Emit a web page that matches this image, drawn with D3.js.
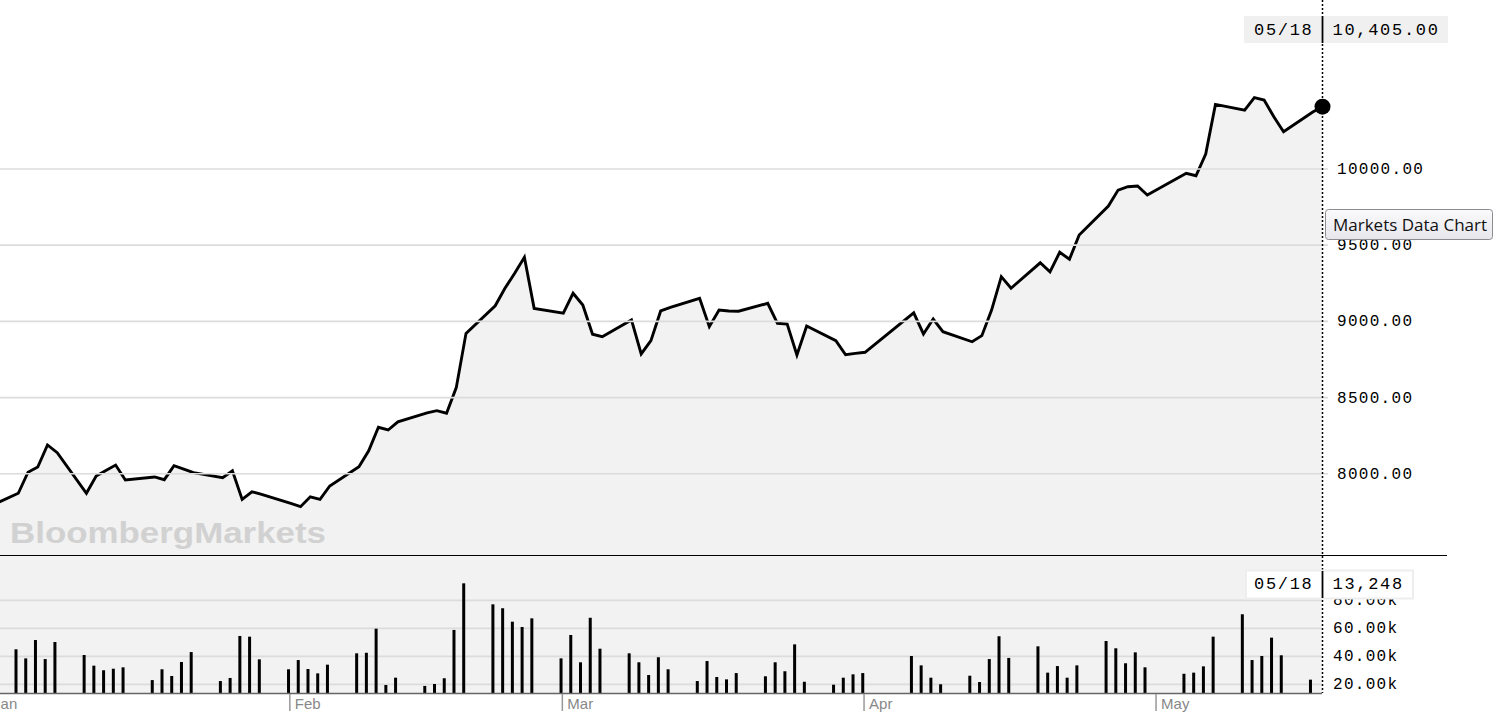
<!DOCTYPE html>
<html><head><meta charset="utf-8">
<script src="https://cdn.jsdelivr.net/npm/d3@7"></script>
<style>body{margin:0;background:#fff;overflow:hidden} svg{display:block}</style>
</head><body><svg id="c" width="1502" height="714"></svg>
<script>
// ---------- data ----------
const dates = [
 "2020-12-31",
 "2021-01-04","2021-01-05","2021-01-06","2021-01-07","2021-01-08",
 "2021-01-11","2021-01-12","2021-01-13","2021-01-14","2021-01-15",
 "2021-01-18","2021-01-19","2021-01-20","2021-01-21","2021-01-22",
 "2021-01-25","2021-01-26","2021-01-27","2021-01-28","2021-01-29",
 "2021-02-01","2021-02-02","2021-02-03","2021-02-04","2021-02-05",
 "2021-02-08","2021-02-09","2021-02-10","2021-02-11","2021-02-12",
 "2021-02-15","2021-02-16","2021-02-17","2021-02-18","2021-02-19",
 "2021-02-22","2021-02-23","2021-02-24","2021-02-25","2021-02-26",
 "2021-03-01","2021-03-02","2021-03-03","2021-03-04","2021-03-05",
 "2021-03-08","2021-03-09","2021-03-10","2021-03-11","2021-03-12",
 "2021-03-15","2021-03-16","2021-03-17","2021-03-18","2021-03-19",
 "2021-03-22","2021-03-23","2021-03-24","2021-03-25","2021-03-26",
 "2021-03-29","2021-03-30","2021-03-31","2021-04-01",
 "2021-04-06","2021-04-07","2021-04-08","2021-04-09",
 "2021-04-12","2021-04-13","2021-04-14","2021-04-15","2021-04-16",
 "2021-04-19","2021-04-20","2021-04-21","2021-04-22","2021-04-23",
 "2021-04-26","2021-04-27","2021-04-28","2021-04-29","2021-04-30",
 "2021-05-04","2021-05-05","2021-05-06","2021-05-07",
 "2021-05-10","2021-05-11","2021-05-12","2021-05-13","2021-05-14",
 "2021-05-17","2021-05-18"
];
const closes = [
 7751,
 7869,8007,8041,8186,8135, 7869,7982,8018,8054,7956, 7976,7958,8050,8028,8004, 7971,8017,7829,7879,7862,
 7802,7781,7846,7829,7917, 8043,8148,8302,8284,8338, 8397,8411,8394,8562,8918, 9099,9214,9312,9417,9082,
 9050,9181,9104,8912,8896, 9006,8783,8870,9065,9089, 9148,8962,9071,9065,9063, 9115,8984,8979,8776,8966,
 8870,8778,8787,8794, 9053,8914,9012,8929, 8863,8903,9071,9290,9214, 9381,9322,9450,9404,9563,
 9753,9858,9880,9885,9826, 9968,9952,10094,10420, 10383,10464,10449,10339,10241, 10370,10405
];
const volumes = [
 null,
 44700,38200,51300,37700,49900, 40600,33000,29700,30800,31800, 22700,30400,25600,35600,42700, 22000,24200,54200,53700,37500,
 30400,37000,30600,27500,33700, 41800,42200,59400,19200,24400, 18500,19900,24000,58500,91800, 76800,74000,64400,60600,66800,
 38200,54900,35400,67200,45100, 41800,35400,26300,39000,30400, 22000,36300,24900,23200,27700, 25400,35400,29000,48200,21500,
 19400,24400,26800,27700, 39900,33200,24400,19700, 25800,21300,37700,54000,38500, 46800,28000,32700,24400,33200,
 50600,45400,34700,42500,31800, 27200,28000,32500,53700, 69700,37000,39900,53000,40400, 23000,13248
];
const priceTicks = [8000, 8500, 9000, 9500, 10000];
const volumeTicks = [20000, 40000, 60000, 80000];
const watermark = "BloombergMarkets";
const buttonLabel = "Markets Data Chart";

// ---------- setup ----------
const parse = d3.timeParse("%Y-%m-%d");
const rows = dates.map((d,i)=>({date:parse(d), close:closes[i], vol:volumes[i]}));
const last = rows[rows.length-1];

const svg = d3.select("#c");
const plotRight = 1322;
const x = d3.scaleTime().domain([new Date(2021,0,1), new Date(2021,4,18)]).range([-12.4, 1321]);
const lineShift = 1.5, barShift = -0.8;
const y = d3.scaleLinear().domain([7464, 11105]).range([555, 0]);
const yv = d3.scaleLinear().domain([13248, 80000]).range([693.3, 599.85]);

const defs = svg.append("defs");
defs.append("clipPath").attr("id","clipP").append("rect").attr("x",0).attr("y",0).attr("width",plotRight).attr("height",555);
defs.append("clipPath").attr("id","clipV").append("rect").attr("x",0).attr("y",556).attr("width",plotRight).attr("height",140);
const grad = defs.append("linearGradient").attr("id","btn").attr("x1",0).attr("y1",0).attr("x2",0).attr("y2",1);
grad.append("stop").attr("offset","0%").attr("stop-color","#fbfbfd");
grad.append("stop").attr("offset","100%").attr("stop-color","#e6e6ec");

// ---------- price panel ----------
const gP = svg.append("g").attr("clip-path","url(#clipP)");
const area = d3.area().x(d=>x(d.date)+lineShift).y0(555).y1(d=>y(d.close));
gP.append("path").datum(rows).attr("d",area).attr("fill","#f2f2f2");

gP.append("text").attr("x",10).attr("y",543).text(watermark)
  .attr("font-family","Liberation Sans, Arial, sans-serif").attr("font-weight","bold")
  .attr("font-size",30).attr("fill","#d1d1d1").attr("textLength",316).attr("lengthAdjust","spacingAndGlyphs");

// gridlines
svg.append("g")
  .call(d3.axisRight(y).tickValues(priceTicks).tickSize(1328).tickFormat(""))
  .call(g=>g.select(".domain").remove())
  .call(g=>g.selectAll("line").attr("stroke","#dcdcdc").attr("stroke-width",1.6));

const line = d3.line().x(d=>x(d.date)+lineShift).y(d=>y(d.close));
gP.append("path").datum(rows).attr("d",line).attr("fill","none").attr("stroke","#000")
  .attr("stroke-width",2.9).attr("stroke-linejoin","miter");

// price labels
svg.append("g").attr("transform","translate(1332,0)")
  .call(d3.axisRight(y).tickValues(priceTicks).tickSize(0).tickPadding(5).tickFormat(d3.format(".2f")))
  .call(g=>g.select(".domain").remove())
  .call(g=>g.selectAll("text").attr("font-family","Liberation Mono, DejaVu Sans Mono, monospace")
     .attr("font-size",16).attr("letter-spacing",1.3).attr("fill","#000"));

// separator
svg.append("line").attr("x1",0).attr("x2",1447).attr("y1",555.5).attr("y2",555.5).attr("stroke","#000").attr("stroke-width",1.2);

// ---------- volume panel ----------
svg.append("rect").attr("x",0).attr("y",556).attr("width",plotRight).attr("height",137.3).attr("fill","#f2f2f2");
svg.append("g")
  .call(d3.axisRight(yv).tickValues(volumeTicks).tickSize(plotRight).tickFormat(""))
  .call(g=>g.select(".domain").remove())
  .call(g=>g.selectAll("line").attr("stroke","#dcdcdc").attr("stroke-width",1.6));
svg.append("g").attr("clip-path","url(#clipV)").selectAll("rect.bar").data(rows.filter(d=>d.vol!=null)).join("rect")
  .attr("class","bar").attr("x",d=>x(d.date)+barShift-1.5).attr("width",3)
  .attr("y",d=>yv(d.vol)).attr("height",d=>Math.max(0,yv.range()[0]-yv(d.vol))).attr("fill","#000");
svg.append("line").attr("x1",0).attr("x2",plotRight).attr("y1",693.5).attr("y2",693.5).attr("stroke","#666").attr("stroke-width",1.6);

svg.append("g").attr("transform","translate(1328,0)")
  .call(d3.axisRight(yv).tickValues(volumeTicks).tickSize(0).tickPadding(5).tickFormat(v=>(v/1000).toFixed(2)+"k"))
  .call(g=>g.select(".domain").remove())
  .call(g=>g.selectAll("text").attr("font-family","Liberation Mono, DejaVu Sans Mono, monospace")
     .attr("font-size",16).attr("letter-spacing",1.3).attr("fill","#000"));

// month axis
svg.append("g").attr("transform","translate(0,694)")
  .call(d3.axisBottom(x).ticks(d3.timeMonth.every(1)).tickFormat(d3.timeFormat("%b")).tickSize(17))
  .call(g=>g.select(".domain").remove())
  .call(g=>g.selectAll("line").attr("stroke","#999").attr("stroke-width",1.5))
  .call(g=>g.selectAll("text").attr("text-anchor","start").attr("x",5).attr("y",4).attr("dy","0.71em")
     .attr("font-family","Liberation Sans, Arial, sans-serif").attr("font-size",15).attr("fill","#888"));

// ---------- crosshair & tooltips ----------
const lx = x(last.date)+lineShift;
svg.append("line").attr("x1",lx).attr("x2",lx).attr("y1",0).attr("y2",693).attr("stroke","#000")
  .attr("stroke-width",1.5).attr("stroke-dasharray","2,2");
svg.append("circle").attr("cx",lx).attr("cy",y(last.close)).attr("r",8).attr("fill","#000");

const fmtDate = d3.timeFormat("%m/%d");
const mono = "Liberation Mono, DejaVu Sans Mono, monospace";
// top tooltip
svg.append("rect").attr("x",1244).attr("y",16).attr("width",204).attr("height",27).attr("fill","#f0f0f0");
svg.append("line").attr("x1",lx).attr("x2",lx).attr("y1",16).attr("y2",43).attr("stroke","#000").attr("stroke-width",1.8);
svg.append("text").attr("x",lx-9).attr("y",35).attr("text-anchor","end").text(fmtDate(last.date))
  .attr("font-family",mono).attr("font-size",17).attr("letter-spacing",1.7).attr("fill","#000");
svg.append("text").attr("x",lx+10).attr("y",35).text(d3.format(",.2f")(last.close))
  .attr("font-family",mono).attr("font-size",17).attr("letter-spacing",1.7).attr("fill","#000");
// volume tooltip
svg.append("rect").attr("x",1246).attr("y",570.5).attr("width",167).attr("height",28).attr("fill","#fff")
  .attr("stroke","#eeeeee").attr("stroke-width",2);
svg.append("line").attr("x1",lx).attr("x2",lx).attr("y1",571).attr("y2",598).attr("stroke","#000").attr("stroke-width",1.8);
svg.append("text").attr("x",lx-9).attr("y",588.5).attr("text-anchor","end").text(fmtDate(last.date))
  .attr("font-family",mono).attr("font-size",17).attr("letter-spacing",1.7).attr("fill","#000");
svg.append("text").attr("x",lx+10).attr("y",588.5).text(d3.format(",")(last.vol))
  .attr("font-family",mono).attr("font-size",17).attr("letter-spacing",1.7).attr("fill","#000");

// button-like title box
svg.append("rect").attr("x",1325.5).attr("y",209.5).attr("width",167).attr("height",30).attr("rx",3)
  .attr("fill","url(#btn)").attr("stroke","#8c8c8c");
svg.append("text").attr("x",1333).attr("y",231).text(buttonLabel)
  .attr("font-family","Open Sans, Noto Sans, sans-serif").attr("font-size",17).attr("fill","#111");
</script></body></html>
